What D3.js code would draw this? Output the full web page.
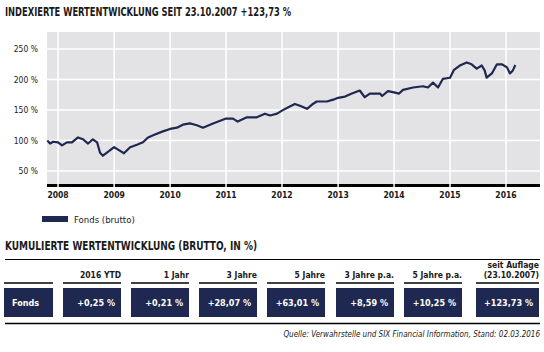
<!DOCTYPE html>
<html>
<head>
<meta charset="utf-8">
<script src="https://cdn.jsdelivr.net/npm/d3@7"></script>
<style>
  body { margin: 0; background: #fff; }
  text { font-family: "Liberation Sans Narrow", "DejaVu Sans Condensed", "Open Sans", sans-serif; fill: #1a1a1a; }
</style>
</head>
<body>
<div id="chart"></div>
<script>
// index values (% , start = 100)
const dates = ["2007-10-23","2007-11-10","2007-11-30","2008-01-01","2008-01-27","2008-02-28","2008-04-01","2008-05-10","2008-06-12","2008-07-15","2008-08-15","2008-09-12","2008-10-01","2008-10-20","2008-11-15","2008-12-05","2009-01-01","2009-01-27","2009-03-06","2009-04-15","2009-05-30","2009-07-08","2009-08-10","2009-09-24","2009-11-15","2010-01-01","2010-02-15","2010-03-25","2010-05-10","2010-06-25","2010-08-03","2010-10-08","2011-01-01","2011-02-15","2011-03-18","2011-05-17","2011-07-20","2011-09-12","2011-10-15","2011-11-30","2012-01-01","2012-02-08","2012-03-25","2012-04-27","2012-06-12","2012-07-15","2012-08-15","2012-10-20","2012-11-30","2013-01-01","2013-02-15","2013-04-01","2013-05-22","2013-06-24","2013-07-27","2013-10-01","2013-10-15","2013-11-22","2014-01-01","2014-02-03","2014-02-28","2014-05-05","2014-07-08","2014-08-10","2014-09-12","2014-10-15","2014-11-15","2015-01-01","2015-01-27","2015-03-06","2015-04-20","2015-05-22","2015-06-24","2015-07-27","2015-08-15","2015-08-28","2015-10-01","2015-11-03","2015-12-05","2016-01-08","2016-01-27","2016-02-15","2016-03-02"];
const values = [100,95,98,97,92,97,97,105,102,95,102,97,80,75,80,84,89,85,79,89,93,97,105,110,115,119,121,126,128,125,121,128,136,136,131,138,138,144,141,144,149,154,160,157,152,159,164,164,167,170,172,177,182,171,177,177,173,181,179,177,183,187,189,187,195,187,201,203,216,223,228,225,218,223,215,203,210,225,225,220,210,215,223.73];
const yTicks = [50, 100, 150, 200, 250];
const years = [2008, 2009, 2010, 2011, 2012, 2013, 2014, 2015, 2016];

const headers = [["2016 YTD"], ["1 Jahr"], ["3 Jahre"], ["5 Jahre"], ["3 Jahre p.a."], ["5 Jahre p.a."], ["seit Auflage", "(23.10.2007)"]];
const rowLabel = "Fonds";
const perf = ["+0,25 %", "+0,21 %", "+28,07 %", "+63,01 %", "+8,59 %", "+10,25 %", "+123,73 %"];

const navy = "#1f2850";
const parse = d3.timeParse("%Y-%m-%d");
const series = dates.map((d, i) => ({ date: parse(d), value: values[i] }));

const svg = d3.select("#chart").append("svg")
    .attr("width", 544)
    .attr("height", 352);

svg.append("text")
    .attr("x", 5).attr("y", 16)
    .attr("textLength", 286).attr("lengthAdjust", "spacingAndGlyphs")
    .style("font-size", "11.5px").style("font-weight", "bold")
    .text("INDEXIERTE WERTENTWICKLUNG SEIT 23.10.2007 +123,73 %");

// plot area
const plotL = 47, plotR = 540, plotT = 32, plotB = 185;
const x = d3.scaleTime().domain([parse("2007-10-21"), parse("2016-08-10")]).range([plotL, plotR]);
const y = d3.scaleLinear().domain([27, 278]).range([plotB, plotT]);

svg.append("rect")
    .attr("x", plotL).attr("y", plotT)
    .attr("width", plotR - plotL).attr("height", plotB - plotT)
    .attr("fill", "#e3e3e5");

svg.append("rect")
    .attr("x", plotL).attr("y", plotB - 1)
    .attr("width", plotR - plotL).attr("height", 3)
    .attr("fill", "#000");

svg.selectAll(".hgrid")
    .data(yTicks)
    .enter().append("line")
    .attr("x1", plotL).attr("x2", plotR)
    .attr("y1", d => y(d)).attr("y2", d => y(d))
    .attr("stroke", "#fff").attr("stroke-width", 1.5);

svg.selectAll(".vgrid")
    .data(years)
    .enter().append("line")
    .attr("x1", d => x(new Date(d, 0, 1))).attr("x2", d => x(new Date(d, 0, 1)))
    .attr("y1", plotT).attr("y2", plotB + 2)
    .attr("stroke", "#fff").attr("stroke-width", 1.5);

svg.selectAll(".ylab")
    .data(yTicks)
    .enter().append("text")
    .attr("x", 38).attr("y", d => y(d) + 3)
    .attr("text-anchor", "end")
    .style("font-size", "8.5px")
    .text(d => d + " %");

svg.selectAll(".xlab")
    .data(years)
    .enter().append("text")
    .attr("x", d => x(new Date(d, 0, 1))).attr("y", 198)
    .attr("text-anchor", "middle")
    .style("font-size", "8.5px").style("font-weight", "bold")
    .text(d => d);

svg.append("path")
    .datum(series)
    .attr("fill", "none")
    .attr("stroke", navy)
    .attr("stroke-width", 2.2)
    .attr("stroke-linejoin", "round")
    .attr("d", d3.line().x(d => x(d.date)).y(d => y(d.value)));

// legend
svg.append("rect")
    .attr("x", 42).attr("y", 216).attr("width", 26).attr("height", 6)
    .attr("fill", navy);
svg.append("text")
    .attr("x", 74).attr("y", 222.5)
    .style("font-size", "9.5px")
    .text("Fonds (brutto)");

// table
svg.append("text")
    .attr("x", 5).attr("y", 250)
    .attr("textLength", 252).attr("lengthAdjust", "spacingAndGlyphs")
    .style("font-size", "11.5px").style("font-weight", "bold")
    .text("KUMULIERTE WERTENTWICKLUNG (BRUTTO, IN %)");

svg.append("line")
    .attr("x1", 5).attr("x2", 540).attr("y1", 259.5).attr("y2", 259.5)
    .attr("stroke", "#000").attr("stroke-width", 1.2);

const colLeft = [63, 131, 199, 267, 336, 404, 476];
const colRight = [121, 189, 257, 325, 394, 462, 539];

svg.append("line")
    .attr("x1", 4).attr("x2", 53).attr("y1", 283).attr("y2", 283)
    .attr("stroke", "#000").attr("stroke-width", 1.5);
svg.append("rect")
    .attr("x", 4).attr("y", 288).attr("width", 49).attr("height", 29)
    .attr("fill", navy);
svg.append("text")
    .attr("x", 12).attr("y", 306)
    .style("font-size", "9px").style("font-weight", "bold").style("fill", "#fff")
    .text(rowLabel);

const cols = svg.selectAll(".col")
    .data(perf)
    .enter().append("g");

cols.append("line")
    .attr("x1", (d, i) => colLeft[i]).attr("x2", (d, i) => colRight[i])
    .attr("y1", 283).attr("y2", 283)
    .attr("stroke", "#000").attr("stroke-width", 1.5);

cols.append("rect")
    .attr("x", (d, i) => colLeft[i]).attr("y", 288)
    .attr("width", (d, i) => colRight[i] - colLeft[i]).attr("height", 29)
    .attr("fill", navy);

cols.append("text")
    .attr("x", (d, i) => colRight[i] - 6).attr("y", 306)
    .attr("text-anchor", "end")
    .style("font-size", "9px").style("font-weight", "bold").style("fill", "#fff")
    .text(d => d);

cols.each(function (d, i) {
    const h = headers[i];
    h.forEach((line, j) => {
        d3.select(this).append("text")
            .attr("x", colRight[i]).attr("y", 278 - (h.length - 1 - j) * 10)
            .attr("text-anchor", "end")
            .style("font-size", "8.5px").style("font-weight", "bold")
            .text(line);
    });
});

svg.append("line")
    .attr("x1", 5).attr("x2", 540).attr("y1", 323.5).attr("y2", 323.5)
    .attr("stroke", "#000").attr("stroke-width", 1.5);

svg.append("text")
    .attr("x", 540).attr("y", 337)
    .attr("text-anchor", "end")
    .style("font-size", "8px").style("font-style", "italic")
    .text("Quelle: Verwahrstelle und SIX Financial Information, Stand: 02.03.2016");
</script>
</body>
</html>
